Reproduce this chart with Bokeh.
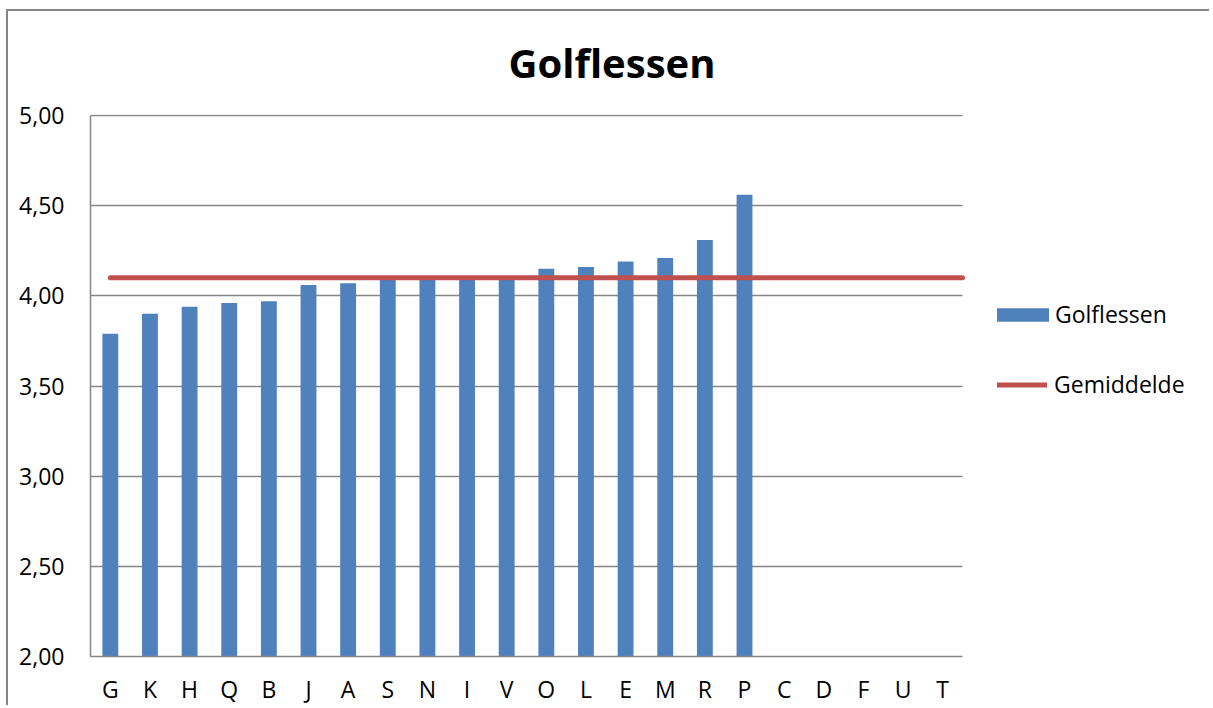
from bokeh.plotting import figure
from bokeh.models import (Range1d, Legend, LegendItem, CustomJSTickFormatter,
                          ColumnDataSource, SingleIntervalTicker, FixedTicker)
from bokeh.embed import file_html
from bokeh.resources import INLINE

nan = float("nan")

categories = ["G", "K", "H", "Q", "B", "J", "A", "S", "N", "I", "V",
              "O", "L", "E", "M", "R", "P", "C", "D", "F", "U", "T"]
golflessen = [3.79, 3.90, 3.94, 3.96, 3.97, 4.06, 4.07, 4.09, 4.10, 4.10, 4.10,
              4.15, 4.16, 4.19, 4.21, 4.31, 4.56, nan, nan, nan, nan, nan]
gemiddelde = [4.10, 4.10, 4.10, 4.10, 4.10, 4.10, 4.10, 4.10, 4.10, 4.10, 4.10,
              4.10, 4.10, 4.10, 4.10, 4.10, 4.10, 4.10, 4.10, 4.10, 4.10, 4.10]
title_text = "Golflessen"

BAR = "#4F81BD"
RED = "#C0504D"
GRID = "#868686"
FONT = "Open Sans"

n = len(categories)
idx = list(range(n))
# frame extends under the legend; the category area covers 872 of 1116 px
x_end = -0.5 + n * 1116 / 872
# one extra pixel of headroom so the 5,00 gridline is fully visible
y_end = 5 + 1 / 180.33

p = figure(width=1203, height=696,
           x_range=Range1d(-0.5, x_end),
           y_range=Range1d(2, y_end),
           output_backend="svg", toolbar_location=None,
           min_border_left=82, min_border_top=103,
           min_border_right=5, min_border_bottom=51)
p.styles = {"margin-left": "6px", "margin-top": "9px",
            "border-left": f"2px solid {GRID}", "border-top": f"2px solid {GRID}"}

p.outline_line_color = None
p.background_fill_color = "white"
p.border_fill_color = "white"

p.xgrid.grid_line_color = None
p.ygrid.grid_line_color = GRID
p.ygrid.grid_line_width = 1.5
p.ygrid.cross_bounds = (-0.5, n - 0.5)

p.yaxis.ticker = SingleIntervalTicker(interval=0.5, num_minor_ticks=0)
p.yaxis.formatter = CustomJSTickFormatter(code="return tick.toFixed(2).replace('.', ',');")
p.xaxis.ticker = FixedTicker(ticks=idx)
p.xaxis.major_label_overrides = {i: c for i, c in zip(idx, categories)}
p.xaxis.bounds = (-0.5, n - 0.5)
p.yaxis.bounds = (2, 5)
for ax in (p.xaxis, p.yaxis):
    ax.axis_line_color = GRID
    ax.axis_line_width = 1.5
    ax.major_tick_line_color = None
    ax.minor_tick_line_color = None
    ax.major_tick_in = 0
    ax.major_tick_out = 0
    ax.minor_tick_in = 0
    ax.minor_tick_out = 0
    ax.major_label_text_font = FONT
    ax.major_label_text_font_size = "23px"
    ax.major_label_text_color = "black"
p.xaxis.major_label_standoff = 16
p.yaxis.major_label_standoff = 26

p.title.text = title_text
p.title.text_font = FONT
p.title.text_font_size = "40px"
p.title.text_font_style = "bold"
p.title.text_color = "black"
p.title.align = "left"
p.title.vertical_align = "top"
p.title.offset = 418
p.title.standoff = 46

bar_src = ColumnDataSource(dict(x=idx, cat=categories, val=golflessen))
bars = p.vbar(x="x", top="val", bottom=2, width=0.4, source=bar_src,
              fill_color=BAR, line_color=None)

line_x = idx[:-1] + [idx[-1] + 0.5]
line_src = ColumnDataSource(dict(x=line_x, y=gemiddelde))
mline = p.line(x="x", y="y", source=line_src, line_color=RED, line_width=5,
               line_cap="round")

common = dict(padding=0, margin=0, border_line_color=None, background_fill_alpha=0,
              label_text_font=FONT, label_text_font_size="23px",
              label_text_color="black", label_height=40, spacing=0)
leg1 = Legend(items=[LegendItem(label="Golflessen", renderers=[bars])],
              location=(900, 322), glyph_width=65, glyph_height=17,
              label_standoff=0, **common)
leg2 = Legend(items=[LegendItem(label="Gemiddelde", renderers=[mline])],
              location=(907, 252), glyph_width=50, glyph_height=17,
              label_standoff=7, **common)
p.add_layout(leg1)
p.add_layout(leg2)

open("out.html", "w").write(file_html(p, INLINE))
